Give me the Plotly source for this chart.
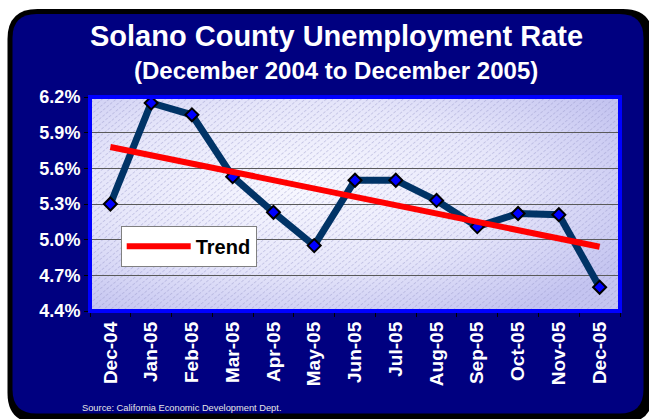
import base64
import numpy as np
import plotly.graph_objects as go

# ---- data ----
months = ["Dec-04", "Jan-05", "Feb-05", "Mar-05", "Apr-05", "May-05", "Jun-05",
          "Jul-05", "Aug-05", "Sep-05", "Oct-05", "Nov-05", "Dec-05"]
rates = [5.30, 6.15, 6.05, 5.53, 5.23, 4.95, 5.50, 5.50, 5.33, 5.11, 5.22, 5.21, 4.60]
y_ticks = [4.4, 4.7, 5.0, 5.3, 5.6, 5.9, 6.2]
title_text = "Solano County Unemployment Rate"
subtitle_text = "(December 2004 to December 2005)"
source_text = "Source: California Economic Development Dept."
trend_name = "Trend"

# linear trend through the data
idx = np.arange(len(rates))
slope, intercept = np.polyfit(idx, rates, 1)
trend = list(slope * idx + intercept)

# ---- geometry helpers ----
W, H = 649, 419
ML, MR, MT, MB = 90, 29, 97, 108
PW, PH = W - ML - MR, H - MT - MB


def pxx(x):
    return (x - ML) / PW


def pxy(y):
    return (MT + PH - y) / PH


def rrect(x0, y0, x1, y1, r):
    def P(x, y):
        return f"{pxx(x):.5f},{pxy(y):.5f}"
    return (f"M{P(x0 + r, y0)} L{P(x1 - r, y0)} Q{P(x1, y0)} {P(x1, y0 + r)} "
            f"L{P(x1, y1 - r)} Q{P(x1, y1)} {P(x1 - r, y1)} L{P(x0 + r, y1)} "
            f"Q{P(x0, y1)} {P(x0, y1 - r)} L{P(x0, y0 + r)} Q{P(x0, y0)} {P(x0 + r, y0)} Z")


# plot-area background (radial gradient + diagonal hatch) as an SVG image
svg = f"""<svg xmlns='http://www.w3.org/2000/svg' width='{PW}' height='{PH}' viewBox='0 0 {PW} {PH}' preserveAspectRatio='none'>
<defs>
<radialGradient id='g' cx='0.4' cy='0.42' r='0.7'>
<stop offset='0' stop-color='#F8F8FF'/>
<stop offset='0.55' stop-color='#E6E6FA'/>
<stop offset='1' stop-color='#C4C4F0'/>
</radialGradient>
<pattern id='h' width='4.5' height='4.5' patternUnits='userSpaceOnUse' patternTransform='rotate(50)'>
<line x1='0.5' y1='0' x2='0.5' y2='4.5' stroke='#9494C8' stroke-width='0.8' stroke-dasharray='3,1.5'/>
</pattern>
</defs>
<rect width='{PW}' height='{PH}' fill='url(#g)'/>
<rect width='{PW}' height='{PH}' fill='url(#h)' opacity='0.5'/>
</svg>"""
bg_uri = "data:image/svg+xml;base64," + base64.b64encode(svg.encode()).decode()

FONT = "Liberation Sans, Arial, sans-serif"

fig = go.Figure()
fig.add_trace(go.Scatter(
    x=months, y=rates, mode="lines+markers", name="Unemployment Rate",
    showlegend=False,
    line=dict(color="#003366", width=7),
    marker=dict(symbol="diamond", size=10, color="#0000FF",
                line=dict(color="black", width=2)),
))
fig.add_trace(go.Scatter(
    x=months, y=trend, mode="lines", name=trend_name,
    line=dict(color="#FF0000", width=6),
))

fig.update_layout(
    width=W, height=H, autosize=False,
    margin=dict(l=ML, r=MR, t=MT, b=MB, pad=0),
    paper_bgcolor="white", plot_bgcolor="rgba(0,0,0,0)",
    font=dict(family=FONT, color="white"),
    showlegend=True,
    legend=dict(
        x=pxx(120.7), y=pxy(225.7), xanchor="left", yanchor="top",
        bgcolor="white", bordercolor="#808080", borderwidth=1,
        font=dict(family=FONT, size=20, color="black", weight="bold"),
        itemwidth=64,
    ),
    xaxis=dict(
        type="category", range=[-0.5, 12.5], tickson="boundaries",
        ticks="outside", ticklen=5, tickcolor="black", tickwidth=1,
        tickangle=-90, showgrid=False, zeroline=False, showline=False,
        ticklabelstandoff=6,
        tickfont=dict(family=FONT, size=19, color="white", weight="bold"),
        fixedrange=True,
    ),
    yaxis=dict(
        range=[4.4, 6.2], tickvals=y_ticks,
        ticktext=[f"{v:.1f}%" for v in y_ticks],
        ticks="outside", ticklen=5, tickcolor="black", tickwidth=1,
        showgrid=True, gridcolor="#5a5a5a", gridwidth=1,
        zeroline=False, showline=False,
        tickfont=dict(family=FONT, size=18, color="white", weight="bold"),
        fixedrange=True,
    ),
    images=[dict(
        source=bg_uri, xref="x domain", yref="y domain", x=0, y=1,
        sizex=1, sizey=1, xanchor="left", yanchor="top",
        sizing="stretch", layer="below",
    )],
    shapes=[
        dict(type="path", xref="paper", yref="paper", layer="below",
             path=rrect(7.5, 9, 653, 423, 30), fillcolor="black",
             line=dict(width=0)),
        dict(type="path", xref="paper", yref="paper", layer="below",
             path=rrect(12.5, 14, 643.5, 413.5, 24), fillcolor="#000080",
             line=dict(width=0)),
        dict(type="rect", xref="paper", yref="paper", layer="above",
             x0=0, x1=1, y0=0, y1=1, fillcolor="rgba(0,0,0,0)",
             line=dict(color="#0000FF", width=4)),
    ],
    annotations=[
        dict(text=title_text, xref="paper", yref="paper",
             x=pxx(336.5), y=pxy(36), xanchor="center", yanchor="middle",
             showarrow=False,
             font=dict(family=FONT, size=29, color="white", weight="bold")),
        dict(text=subtitle_text, xref="paper", yref="paper",
             x=pxx(335.5), y=pxy(70), xanchor="center", yanchor="middle",
             showarrow=False,
             font=dict(family=FONT, size=24, color="white", weight="bold")),
        dict(text=source_text, xref="paper", yref="paper",
             x=pxx(80), y=pxy(407.5), xanchor="left", yanchor="middle",
             showarrow=False,
             font=dict(family=FONT, size=9.3, color="#E6E6E6")),
    ],
)

fig.write_html(
    "out.html",
    config={"displayModeBar": False, "staticPlot": True},
    post_script="document.body.style.margin='0';document.body.style.padding='0';"
                "document.body.style.overflow='hidden';",
)
